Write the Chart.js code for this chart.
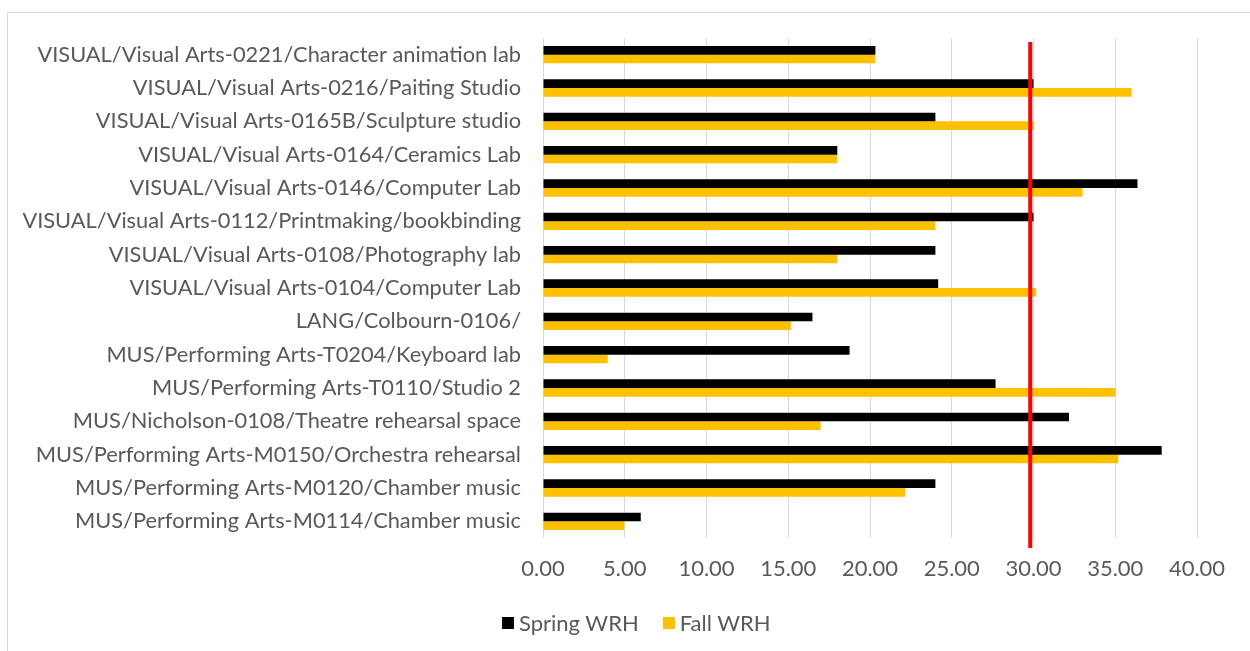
<!DOCTYPE html>
<html>
<head>
<meta charset="utf-8">
<script src="https://cdn.jsdelivr.net/npm/chart.js@4/dist/chart.umd.min.js"></script>
<style>
  body { margin:0; background:#fff; width:1250px; height:651px; overflow:hidden; position:relative; font-family: Lato, sans-serif; }
  .frame { position:absolute; left:7px; top:12px; width:1260px; height:660px; border:1px solid #d9d9d9; }
  #chart { position:absolute; left:0; top:0; }
  .legend { position:absolute; left:502px; top:609px; display:flex; align-items:center; font-size:22px; color:#595959; }
  .legend span.box { display:inline-block; width:12px; height:12px; margin-right:5px; }
  .legend .item { display:flex; align-items:center; margin-right:24px; }
</style>
</head>
<body>
<div class="frame"></div>
<canvas id="chart" width="1250" height="651"></canvas>
<div class="legend" id="legend"></div>
<script>
const rooms = [
  'VISUAL/Visual Arts-0221/Character animation lab',
  'VISUAL/Visual Arts-0216/Paiting Studio',
  'VISUAL/Visual Arts-0165B/Sculpture studio',
  'VISUAL/Visual Arts-0164/Ceramics Lab',
  'VISUAL/Visual Arts-0146/Computer Lab',
  'VISUAL/Visual Arts-0112/Printmaking/bookbinding',
  'VISUAL/Visual Arts-0108/Photography lab',
  'VISUAL/Visual Arts-0104/Computer Lab',
  'LANG/Colbourn-0106/',
  'MUS/Performing Arts-T0204/Keyboard lab',
  'MUS/Performing Arts-T0110/Studio 2',
  'MUS/Nicholson-0108/Theatre rehearsal space',
  'MUS/Performing Arts-M0150/Orchestra rehearsal',
  'MUS/Performing Arts-M0120/Chamber music',
  'MUS/Performing Arts-M0114/Chamber music'
];
const springWRH = [20.33, 30.0, 24.0, 18.0, 36.36, 30.0, 24.0, 24.17, 16.48, 18.75, 27.68, 32.17, 37.84, 24.0, 5.98];
const fallWRH   = [20.33, 36.0, 30.0, 18.0, 33.0, 24.0, 18.0, 30.15, 15.16, 3.96, 35.0, 16.98, 35.18, 22.15, 4.97];
const xTicks = [0, 5, 10, 15, 20, 25, 30, 35, 40];
const drempel = 29.8;

const textKleur = '#595959';
const gridKleur = '#d9d9d9';
const fontFam = 'Lato, sans-serif';

// Rode verticale lijn op de drempelwaarde.
const drempelLijn = {
  id: 'drempelLijn',
  afterDatasetsDraw(c) {
    const x = c.scales.x.getPixelForValue(drempel);
    const ctx = c.ctx;
    ctx.save();
    ctx.beginPath();
    ctx.strokeStyle = '#ff0000';
    ctx.lineWidth = 4;
    ctx.moveTo(x, c.chartArea.top + 4);
    ctx.lineTo(x, c.chartArea.bottom + 10);
    ctx.stroke();
    ctx.restore();
  }
};

const datasets = [
  { label: 'Spring WRH', data: springWRH, backgroundColor: '#000000' },
  { label: 'Fall WRH', data: fallWRH, backgroundColor: '#ffc000' }
];

new Chart(document.getElementById('chart'), {
  type: 'bar',
  plugins: [drempelLijn],
  data: {
    labels: rooms,
    datasets: datasets.map(d => ({ ...d, barPercentage: 1, categoryPercentage: 0.52 }))
  },
  options: {
    indexAxis: 'y',
    responsive: false, animation: false,
    layout: { padding: { top: 38, right: 53, bottom: 53, left: 0 } },
    plugins: { legend: { display: false }, tooltip: { enabled: false } },
    scales: {
      x: {
        min: 0, max: 40,
        afterBuildTicks: s => { s.ticks = xTicks.map(v => ({ value: v })); },
        afterFit: s => { s.height = 60; },
        ticks: { color: textKleur, font: { family: fontFam, size: 22 }, padding: 18, callback: v => Number(v).toFixed(2) },
        grid: { color: gridKleur, drawTicks: false },
        border: { display: false }
      },
      y: {
        afterFit: s => { s.width = 543; },
        ticks: { color: textKleur, font: { family: fontFam, size: 21.8 }, padding: 22, autoSkip: false },
        grid: { display: false, drawTicks: false },
        border: { display: false }
      }
    }
  }
});

document.getElementById('legend').innerHTML = datasets.map(d =>
  `<div class="item"><span class="box" style="background:${d.backgroundColor}"></span>${d.label}</div>`
).join('');
</script>
</body>
</html>
